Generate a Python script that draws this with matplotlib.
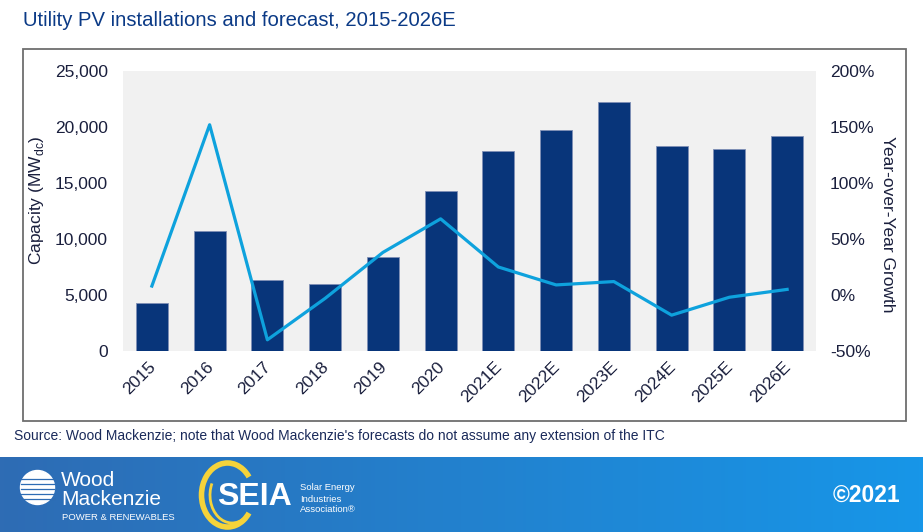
import matplotlib.pyplot as plt
import matplotlib.transforms as mtransforms
import numpy as np
from matplotlib.patches import Rectangle, Arc, Circle
from matplotlib.ticker import FuncFormatter

plt.rcParams['font.family'] = ['Liberation Sans', 'DejaVu Sans']

# Datos
years = ["2015", "2016", "2017", "2018", "2019", "2020",
         "2021E", "2022E", "2023E", "2024E", "2025E", "2026E"]
capacity_mw = [4300, 10700, 6350, 6000, 8350, 14300,
               17900, 19700, 22200, 18300, 18050, 19200]
yoy_growth = [8, 152, -40, -3, 38, 68, 25, 9, 12, -18, -2, 5]

navy = "#08357a"
cyan = "#0ea2dd"
text_col = "#1a1f3d"

fig = plt.figure(figsize=(9.23, 5.32), dpi=100)

# caja gris alrededor del grafico
fig.patches.append(Rectangle((23 / 923, 1 - 421 / 532), (906 - 23) / 923, (421 - 49) / 532,
                             transform=fig.transFigure, fill=False,
                             edgecolor="#6e6e6e", linewidth=1.3))

ax = fig.add_axes([123 / 923, 1 - 351 / 532, 693 / 923, 280 / 532])
ax.set_facecolor("#f1f1f1")
x = np.arange(len(years))
ax.bar(x, capacity_mw, width=0.55, color=navy, edgecolor="#7f8fb5", linewidth=0.6, zorder=2)
ax.set_xlim(-0.5, len(years) - 0.5)
ax.set_ylim(0, 25000)
ax.set_yticks(np.arange(0, 25001, 5000))
ax.yaxis.set_major_formatter(FuncFormatter(lambda v, p: f"{int(v):,}"))
ax.set_xticks(x)
ax.set_xticklabels(years, rotation=45, ha="right", va="top", rotation_mode="anchor")
ax.tick_params(axis="both", length=0, labelsize=12.5, colors=text_col)
ax.tick_params(axis="y", pad=11)
ax.tick_params(axis="x", pad=6)
shift = mtransforms.ScaledTranslation(-4 / 100, 0, fig.dpi_scale_trans)
for lbl in ax.get_xticklabels():
    lbl.set_transform(lbl.get_transform() + shift)
for s in ax.spines.values():
    s.set_visible(False)
ax.set_ylabel("Capacity (MW$_{\\mathregular{dc}}$)", fontsize=12.5, color=text_col)
ax.yaxis.set_label_coords(-0.111, 0.539)

ax2 = ax.twinx()
ax2.plot(x, yoy_growth, color=cyan, linewidth=2.3, zorder=3)
ax2.set_ylim(-50, 200)
ax2.set_yticks(np.arange(-50, 201, 50))
ax2.yaxis.set_major_formatter(FuncFormatter(lambda v, p: f"{int(v)}%"))
ax2.tick_params(axis="y", length=0, labelsize=12.5, colors=text_col, pad=10)
for s in ax2.spines.values():
    s.set_visible(False)
ax2.set_ylabel("Year-over-Year Growth", fontsize=12.5, color=text_col, rotation=-90,
               va="center")
ax2.yaxis.set_label_coords(1.103, 0.454)

fig.text(23 / 923, 1 - 21 / 532, "Utility PV installations and forecast, 2015-2026E",
         fontsize=14.6, color="#0b3a86", va="center", ha="left")
fig.text(14 / 923, 1 - 436 / 532,
         "Source: Wood Mackenzie; note that Wood Mackenzie's forecasts do not assume any extension of the ITC",
         fontsize=10, color="#1a2a5a", va="center", ha="left")

# franja azul del pie
fax = fig.add_axes([0, 0, 1, 75 / 532])
grad = np.linspace(0, 1, 256).reshape(1, -1)
c0 = np.array([0x2e, 0x6c, 0xb4]) / 255
c1 = np.array([0x17, 0x96, 0xe8]) / 255
img = c0[None, None, :] * (1 - grad[..., None]) + c1[None, None, :] * grad[..., None]
fax.imshow(img, aspect="auto", extent=[0, 923, 0, 75])
fax.set_xlim(0, 923)
fax.set_ylim(0, 75)
fax.axis("off")

# logos aproximados
fax.add_patch(Circle((37.5, 44.5), 17, color="white"))
for yy in (33, 38, 43, 48, 53):
    fax.plot([21, 54], [yy, yy], color="#2e6cb4", linewidth=0.9)
fax.text(61, 46, "Wood", fontsize=15, color="white", va="baseline")
fax.text(61, 27, "Mackenzie", fontsize=15, color="white", va="baseline")
fax.text(62, 14, "POWER & RENEWABLES", fontsize=6.8, color="white", va="center")

fax.add_patch(Arc((227.5, 37), 52, 64, theta1=40, theta2=320, color="#f5d33a", linewidth=4))
fax.add_patch(Arc((232, 37), 44, 56, theta1=150, theta2=300, color="#f5d33a", linewidth=2))
fax.text(217, 35, "SEIA", fontsize=23, fontweight="bold", color="white", va="center")
fax.text(300, 44, "Solar Energy", fontsize=6.8, color="white", va="center")
fax.text(300, 33, "Industries", fontsize=6.8, color="white", va="center")
fax.text(300, 23, "Association\u00ae", fontsize=6.8, color="white", va="center")

fax.text(900, 37, "\u00a92021", fontsize=16.5, fontweight="bold", color="white", va="center", ha="right")

fig.savefig("out.png", dpi=100)
